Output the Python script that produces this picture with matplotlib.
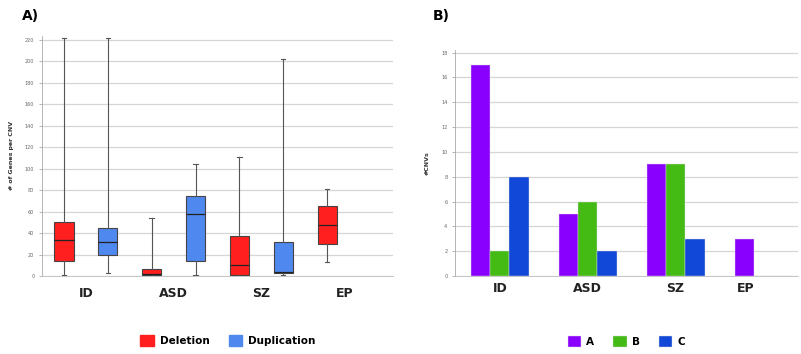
import matplotlib.pyplot as plt
from matplotlib.patches import Patch

# panel A: box stats (genes per CNV)
groups = ["ID", "ASD", "SZ", "EP"]
del_low = [1, 0, 0, 13]
del_q1 = [14, 1, 1, 30]
del_med = [34, 2, 10, 48]
del_q3 = [50, 7, 37, 65]
del_high = [222, 54, 111, 81]

dup_low = [3, 1, 1]
dup_q1 = [20, 14, 3]
dup_med = [32, 58, 4]
dup_q3 = [45, 75, 32]
dup_high = [222, 104, 202]

# panel B: counts of CNVs
series = ["A", "B", "C"]
a_vals = [17, 5, 9, 3]
b_vals = [2, 6, 9, 0]
c_vals = [8, 2, 3, 0]

red = "#ff1f1f"
blue_box = "#4f88ee"
colors_b = ["#8a00ff", "#44bb14", "#1148d8"]
grid_c = "#d6d6d6"
tick_c = "#666666"

fig = plt.figure(figsize=(8.01, 3.54), dpi=100)

# ---------------- A)
ax1 = fig.add_axes([0.0524, 0.2203, 0.4382, 0.679])
stats = []
pos = []
cols = []
for i in range(len(groups)):
    stats.append(dict(whislo=del_low[i], q1=del_q1[i], med=del_med[i], q3=del_q3[i], whishi=del_high[i], fliers=[]))
    pos.append(2 * i)
    cols.append(red)
    if i < len(dup_low):
        stats.append(dict(whislo=dup_low[i], q1=dup_q1[i], med=dup_med[i], q3=dup_q3[i], whishi=dup_high[i], fliers=[]))
        pos.append(2 * i + 1)
        cols.append(blue_box)

bp = ax1.bxp(stats, positions=pos, widths=0.44, patch_artist=True, showfliers=False,
             boxprops=dict(edgecolor="#444444", linewidth=0.8),
             medianprops=dict(color="#222222", linewidth=0.9),
             whiskerprops=dict(color="#555555", linewidth=0.8),
             capprops=dict(color="#555555", linewidth=0.8), capwidths=0.1)
for b, c in zip(bp["boxes"], cols):
    b.set_facecolor(c)

ax1.set_xlim(-0.5, 7.5)
ax1.set_ylim(0, 224)
ax1.set_yticks(range(0, 221, 20))
ax1.set_xticks([0.5, 2.5, 4.5, 6.4])
ax1.set_xticklabels(groups, fontsize=9, fontweight="bold", color="#222222")
ax1.set_ylabel("# of Genes per CNV", fontsize=4.5, fontweight="bold", color="#333333", labelpad=8)
ax1.yaxis.grid(True, color=grid_c, linewidth=0.9)
ax1.set_axisbelow(True)
ax1.tick_params(axis="y", labelsize=3.5, labelcolor=tick_c, length=2, color="#999999", width=0.5)
ax1.tick_params(axis="x", length=0, pad=8)
for s in ["top", "right"]:
    ax1.spines[s].set_visible(False)
ax1.spines["left"].set_color("#aaaaaa")
ax1.spines["bottom"].set_color("#bbbbbb")
ax1.spines["left"].set_linewidth(0.6)
ax1.spines["bottom"].set_linewidth(0.6)

ax1.legend(handles=[Patch(color=red, label="Deletion"), Patch(color=blue_box, label="Duplication")],
           loc="center", bbox_to_anchor=(0.53, -0.267), ncol=2, frameon=False,
           prop=dict(size=7.5, weight="bold"), handlelength=1.3, handleheight=1.3, columnspacing=1.8,
           handletextpad=0.6)
fig.text(0.027, 0.955, "A)", fontsize=10, fontweight="bold", va="center")

# ---------------- B)
ax2 = fig.add_axes([0.568, 0.2203, 0.428, 0.638])
w = 0.22
x = list(range(len(groups)))
for k, (vals, c) in enumerate(zip([a_vals, b_vals, c_vals], colors_b)):
    ax2.bar([xi + (k - 1) * w for xi in x], vals, width=w, color=c, label=series[k],
            edgecolor="#dddddd", linewidth=0.3)
ax2.set_xlim(-0.51, 3.39)
ax2.set_ylim(0, 18.2)
ax2.set_yticks(range(0, 19, 2))
ax2.set_xticks([0, 1, 2, 2.8])
ax2.set_xticklabels(groups, fontsize=9, fontweight="bold", color="#222222")
ax2.set_ylabel("#CNVs", fontsize=4.5, fontweight="bold", color="#333333", labelpad=8)
ax2.yaxis.grid(True, color=grid_c, linewidth=0.9)
ax2.set_axisbelow(True)
ax2.tick_params(axis="y", labelsize=3.5, labelcolor=tick_c, length=2, color="#999999", width=0.5)
ax2.tick_params(axis="x", length=0, pad=4)
for s in ["top", "right"]:
    ax2.spines[s].set_visible(False)
ax2.spines["left"].set_color("#aaaaaa")
ax2.spines["bottom"].set_color("#bbbbbb")
ax2.spines["left"].set_linewidth(0.6)
ax2.spines["bottom"].set_linewidth(0.6)

ax2.legend(loc="center", bbox_to_anchor=(0.5, -0.29), ncol=3, frameon=False,
           prop=dict(size=7.5, weight="bold"), handlelength=1.3, handleheight=1.3, columnspacing=1.8,
           handletextpad=0.5)
fig.text(0.54, 0.955, "B)", fontsize=10, fontweight="bold", va="center")

fig.savefig("out.png", dpi=100, facecolor="white")
